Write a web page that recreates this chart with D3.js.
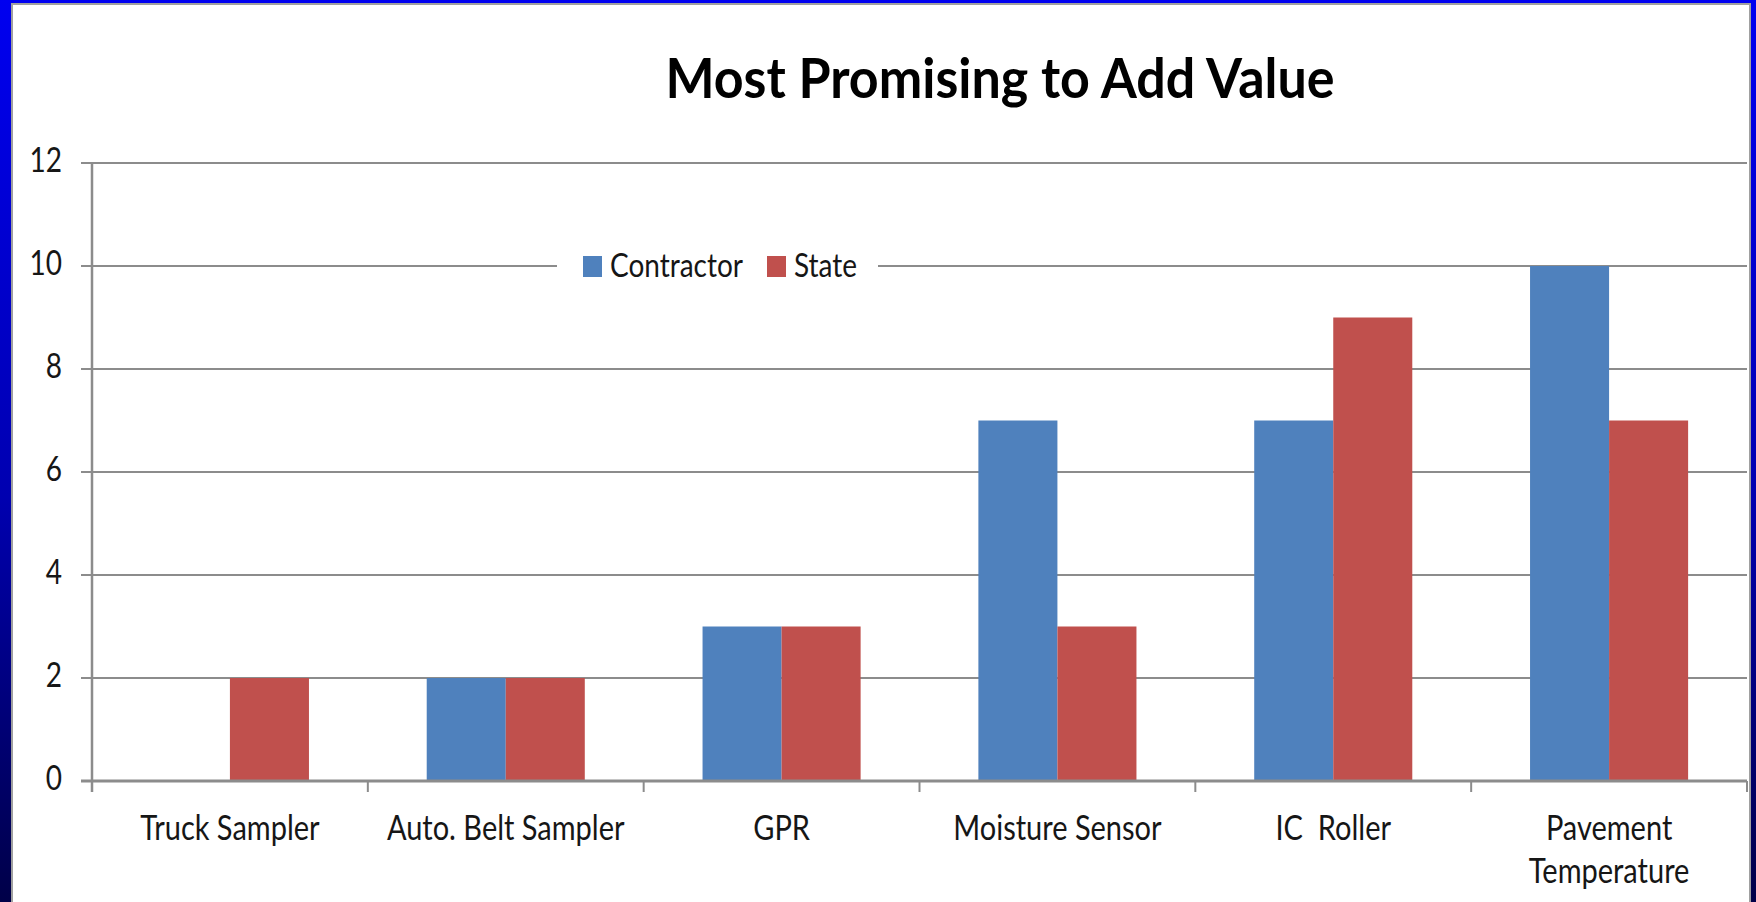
<!DOCTYPE html>
<html>
<head>
<meta charset="utf-8">
<script src="https://cdn.jsdelivr.net/npm/d3@7"></script>
<style>
  html, body { margin: 0; padding: 0; overflow: hidden; background: #fff; }
  text { font-family: Lato, "Open Sans", sans-serif; fill: #161616; }
</style>
</head>
<body>
<div id="chart"></div>
<script>
// chart data
var categories = ["Truck Sampler", "Auto. Belt Sampler", "GPR", "Moisture Sensor", "IC  Roller", "Pavement Temperature"];
var seriesNames = ["Contractor", "State"];
var contractor = [0, 2, 3, 7, 7, 10];
var state = [2, 2, 3, 3, 9, 7];
var yTicks = [0, 2, 4, 6, 8, 10, 12];
var colors = ["#4f81bd", "#c0504d"];

function init(){
  var W = 1756, H = 902;
  var left = 92, right = 1747, top = 163, bottom = 781;

  var svg = d3.select("#chart").append("svg")
    .attr("width", W).attr("height", H);

  // blue slide background with gradient
  var defs = svg.append("defs");
  var grad = defs.append("linearGradient").attr("id", "bg")
    .attr("x1", 0).attr("y1", 0).attr("x2", 0).attr("y2", 1);
  grad.append("stop").attr("offset", "0%").attr("stop-color", "#0000f0");
  grad.append("stop").attr("offset", "55%").attr("stop-color", "#0000b0");
  grad.append("stop").attr("offset", "100%").attr("stop-color", "#000048");
  svg.append("rect").attr("width", W).attr("height", H).attr("fill", "url(#bg)");

  // white chart panel
  svg.append("rect")
    .attr("x", 12).attr("y", 4).attr("width", 1738).attr("height", H + 10)
    .attr("fill", "#fff").attr("stroke", "#a0a0a0").attr("stroke-width", 2);

  // helper for vertically stretched text (the slide is stretched)
  function stretchedText(x, y, str, size, anchor, stretch, weight){
    var g = svg.append("g").attr("transform", "translate(" + x + "," + y + ") scale(1," + stretch + ")");
    return g.append("text")
      .attr("text-anchor", anchor)
      .style("font-size", size + "px")
      .style("font-weight", weight || "normal")
      .style("white-space", "pre")
      .text(str);
  }

  // title
  stretchedText(1000, 98, "Most Promising to Add Value", 52, "middle", 1.08, "bold").style("fill", "#000");

  // scales
  var x0 = d3.scaleBand().domain(categories).range([left, right]).padding(0);
  var x1 = d3.scaleBand().domain(seriesNames).range([0, x0.bandwidth()])
    .paddingInner(0).paddingOuter(0.745);
  var y = d3.scaleLinear().domain([0, 12]).range([bottom, top]);

  // gridlines + y tick marks
  svg.append("g").selectAll("line").data(yTicks.filter(function(d){ return d > 0; }))
    .enter().append("line")
    .attr("x1", left - 11).attr("x2", right)
    .attr("y1", function(d){ return y(d); }).attr("y2", function(d){ return y(d); })
    .attr("stroke", "#8c8c8c").attr("stroke-width", 2);

  // y labels
  yTicks.forEach(function(t){
    stretchedText(62, y(t) + 9, String(t), 28, "end", 1.25);
  });

  // bars
  var data = categories.map(function(c, i){
    return { cat: c, values: [contractor[i], state[i]] };
  });
  svg.append("g").selectAll("g").data(data).enter().append("g")
    .attr("transform", function(d){ return "translate(" + x0(d.cat) + ",0)"; })
    .selectAll("rect")
    .data(function(d){ return d.values.map(function(v, j){ return { key: seriesNames[j], v: v, j: j }; }); })
    .enter().append("rect")
      .attr("x", function(d){ return x1(d.key); })
      .attr("y", function(d){ return y(d.v); })
      .attr("width", x1.bandwidth())
      .attr("height", function(d){ return y(0) - y(d.v); })
      .attr("fill", function(d){ return colors[d.j]; });

  // axes lines
  svg.append("line").attr("x1", left).attr("x2", left).attr("y1", top).attr("y2", bottom + 11)
    .attr("stroke", "#8c8c8c").attr("stroke-width", 2.5);
  svg.append("line").attr("x1", left - 11).attr("x2", right).attr("y1", bottom).attr("y2", bottom)
    .attr("stroke", "#8c8c8c").attr("stroke-width", 3);
  // category ticks
  var bounds = categories.map(function(c){ return x0(c) + x0.bandwidth(); });
  svg.append("g").selectAll("line").data(bounds).enter().append("line")
    .attr("x1", function(d){ return d; }).attr("x2", function(d){ return d; })
    .attr("y1", bottom).attr("y2", bottom + 11)
    .attr("stroke", "#8c8c8c").attr("stroke-width", 2);

  // category labels (wrap Pavement Temperature)
  categories.forEach(function(c){
    var cx = x0(c) + x0.bandwidth() / 2;
    if (c === "Pavement Temperature") {
      stretchedText(cx, 840, "Pavement", 29, "middle", 1.2);
      stretchedText(cx, 883, "Temperature", 29, "middle", 1.2);
    } else {
      stretchedText(cx, 840, c, 29, "middle", 1.2);
    }
  });

  // legend, sits on the 10 gridline
  svg.append("rect").attr("x", 557).attr("y", 250).attr("width", 321).attr("height", 34).attr("fill", "#fff");
  var legendX = [583, 767];
  seriesNames.forEach(function(s, i){
    svg.append("rect").attr("x", legendX[i]).attr("y", 256).attr("width", 19).attr("height", 21)
      .attr("fill", colors[i]);
    stretchedText(legendX[i] + 27, 277, s, 28, "start", 1.2);
  });
}
window.onload = init;
</script>
</body>
</html>
